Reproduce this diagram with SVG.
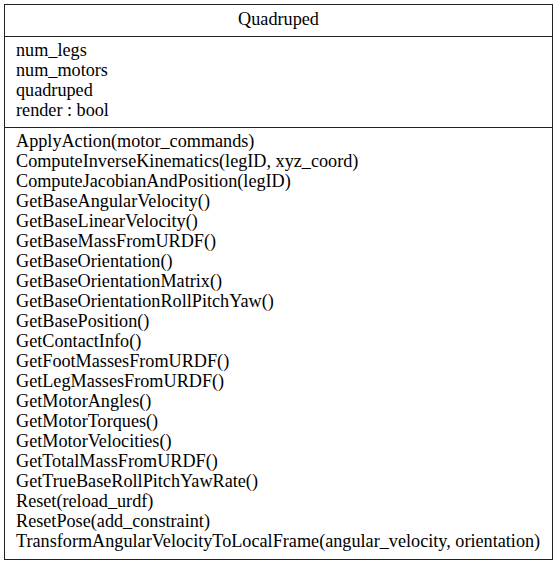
<svg xmlns="http://www.w3.org/2000/svg" width="557" height="564" viewBox="0 0 557 564">
<style>
text { font-family: "Liberation Serif", "Times New Roman", serif; font-size: 18.2px; fill: #000; }
.box { fill: #fff; stroke: #222; stroke-width: 1; }
.sep { stroke: #222; stroke-width: 1; }
</style>
<rect width="557" height="564" fill="#fff"/>
<g id="Quadruped">
<rect class="box" x="4.5" y="4.5" width="548" height="555"/>
<text x="278.5" y="25" text-anchor="middle">Quadruped</text>
<line class="sep" x1="4.5" y1="36.5" x2="552.5" y2="36.5"/>
<text x="16" y="56">num_legs</text>
<text x="16" y="76">num_motors</text>
<text x="16" y="96">quadruped</text>
<text x="16" y="116">render : bool</text>
<line class="sep" x1="4.5" y1="127.5" x2="552.5" y2="127.5"/>
<text x="16" y="147">ApplyAction(motor_commands)</text>
<text x="16" y="167">ComputeInverseKinematics(legID, xyz_coord)</text>
<text x="16" y="187">ComputeJacobianAndPosition(legID)</text>
<text x="16" y="207">GetBaseAngularVelocity()</text>
<text x="16" y="227">GetBaseLinearVelocity()</text>
<text x="16" y="247">GetBaseMassFromURDF()</text>
<text x="16" y="267">GetBaseOrientation()</text>
<text x="16" y="287">GetBaseOrientationMatrix()</text>
<text x="16" y="307">GetBaseOrientationRollPitchYaw()</text>
<text x="16" y="327">GetBasePosition()</text>
<text x="16" y="347">GetContactInfo()</text>
<text x="16" y="367">GetFootMassesFromURDF()</text>
<text x="16" y="387">GetLegMassesFromURDF()</text>
<text x="16" y="407">GetMotorAngles()</text>
<text x="16" y="427">GetMotorTorques()</text>
<text x="16" y="447">GetMotorVelocities()</text>
<text x="16" y="467">GetTotalMassFromURDF()</text>
<text x="16" y="487">GetTrueBaseRollPitchYawRate()</text>
<text x="16" y="507">Reset(reload_urdf)</text>
<text x="16" y="527">ResetPose(add_constraint)</text>
<text x="16" y="547">TransformAngularVelocityToLocalFrame(angular_velocity, orientation)</text>
</g>
<g id="connectors"></g>
</svg>
